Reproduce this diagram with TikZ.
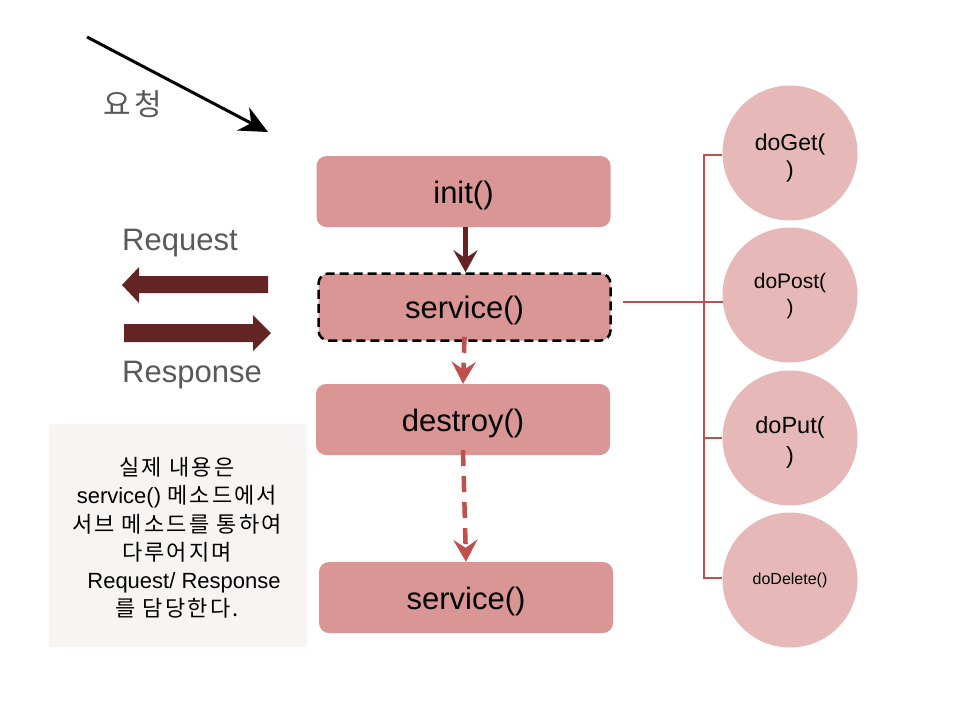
\documentclass[tikz,border=0pt]{standalone}
\usepackage{fontspec}
\setmainfont{Liberation Sans}
\newfontfamily\kr{Noto Sans CJK KR}
\newfontfamily\krwide[LetterSpace=10]{Noto Sans CJK KR}
\usetikzlibrary{arrows.meta}
\definecolor{boxfill}{HTML}{D99694}
\definecolor{circfill}{HTML}{E6B9B8}
\definecolor{darkred}{HTML}{632523}
\definecolor{accred}{HTML}{C0504D}
\definecolor{notebg}{HTML}{F9F4F4}
\definecolor{graytext}{HTML}{595959}
\tikzset{
  methodbox/.style={fill=boxfill, rounded corners=10pt, minimum width=294pt, minimum height=71pt,
    font=\fontsize{31}{36}\selectfont, text=black, inner sep=0pt, text height=28pt, text depth=5pt},
  methodcirc/.style={circle, fill=circfill, minimum size=135pt, inner sep=0pt, align=center},
  solidflow/.style={draw=darkred, line width=4.5pt, -{Stealth[length=22pt,width=24pt,inset=8pt]}},
  dashflow/.style={draw=accred, line width=4.5pt, dash pattern=on 16pt off 10pt, -{Stealth[length=22pt,width=24pt,inset=8pt]}},
  bracketline/.style={draw=accred, line width=1.6pt},
  graylabel/.style={text=graytext, font=\fontsize{31}{36}\selectfont, inner sep=0pt}
}
\begin{document}
\begin{tikzpicture}[x=1pt,y=-1pt]
\useasboundingbox (0,0) rectangle (960,720);
\fill[white] (0,0) rectangle (960,720);

% request arrow and label
\coordinate (reqstart) at (87,37);
\coordinate (reqend) at (268,132);
\draw[line width=3pt, -{Stealth[length=28pt,width=26pt,inset=9pt]}] (reqstart) -- (reqend);
\node[graylabel, font=\krwide\fontsize{30}{36}\selectfont] (yocheong) at (133,104) {요청};

% method boxes
\node[methodbox] (init) at (463.5,191.5) {init()};
\node[methodbox, draw=black, line width=2.5pt, dash pattern=on 9pt off 5pt, minimum width=292pt, minimum height=67pt] (svc1) at (464.5,307) {service()};
\node[methodbox] (destroy) at (463,419.5) {destroy()};
\node[methodbox] (svc2) at (466,597.5) {service()};

\draw[solidflow] ([xshift=2pt]init.south) -- ([xshift=1pt]svc1.north);
\draw[dashflow] ([yshift=5pt]svc1.south) -- (destroy.north);
\draw[dashflow] ([yshift=5pt]destroy.south) -- (svc2.north);

% block arrows
\node[graylabel, anchor=base west] (reqtxt) at (122,250) {Request};
\node[graylabel, anchor=base west] (resptxt) at (122,382) {Response};
\fill[darkred] (268,276) -- (139,276) -- (139,267) -- (122,285) -- (139,303) -- (139,293) -- (268,293) -- cycle;
\fill[darkred] (124,324) -- (253,324) -- (253,315) -- (271,333) -- (253,351) -- (253,342) -- (124,342) -- cycle;

% note
\node[fill=notebg, minimum width=258pt, minimum height=223pt, anchor=north west, inner sep=0pt] (note) at (49,424) {};
\node[align=center, inner sep=0pt, font=\fontsize{22}{28.3}\selectfont] (notetxt) at (177,538)
  {{\krwide 실제 내용은}\\
   service() {\krwide 메소드에서}\\
   {\krwide 서브 메소드를 통하여}\\
   {\krwide 다루어지며}\\
   \hspace*{14pt}Request/ Response\\
   {\krwide 를 담당한다.}};

% circles
\node[methodcirc] (cget) at (790,153) {};
\node[methodcirc] (cpost) at (790,295) {};
\node[methodcirc] (cput) at (790,438) {};
\node[methodcirc] (cdel) at (790,580) {};
\node[align=center, inner sep=0pt, font=\fontsize{23}{27}\selectfont] (tget) at ([yshift=-5pt]cget.center) {doGet(\\)};
\node[align=center, inner sep=0pt, font=\fontsize{21}{26}\selectfont] (tpost) at ([yshift=-1pt]cpost.center) {doPost(\\)};
\node[align=center, inner sep=0pt, font=\fontsize{23.5}{30}\selectfont] (tput) at ([yshift=-4pt]cput.center) {doPut(\\)};
\node[inner sep=0pt, font=\fontsize{16}{19}\selectfont] (tdel) at (cdel.center) {doDelete()};

% bracket connector
\coordinate (btop) at (704,155);
\coordinate (bpost) at (704,302);
\coordinate (bput) at (704,438);
\coordinate (bbot) at (704,578);
\draw[bracketline] (cget.west |- btop) -- (btop) -- (bbot) -- (cdel.west |- bbot);
\draw[bracketline] (bput) -- (cput.west |- bput);
\draw[bracketline] ([xshift=11pt,yshift=5pt]svc1.east) -- (bpost) -- ([xshift=1pt]cpost.west |- bpost);
\end{tikzpicture}
\end{document}
